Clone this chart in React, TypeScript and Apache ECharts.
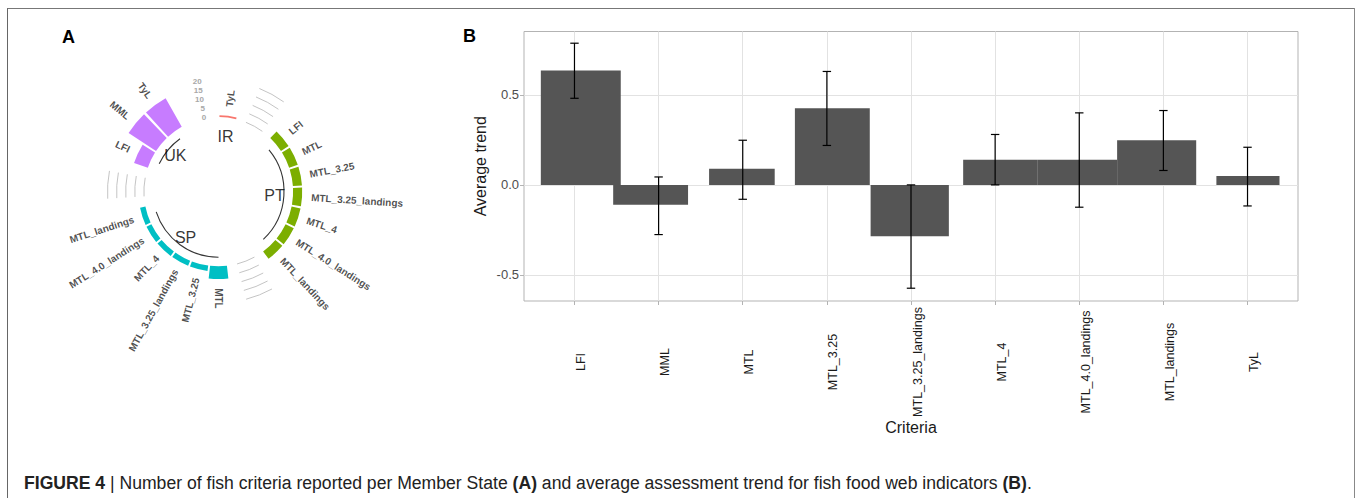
import React, { useEffect, useRef } from "react";
import * as echarts from "echarts";

// ---------- Panel B data ----------
const criteria = ["LFI", "MML", "MTL", "MTL_3.25", "MTL_3.25_landings", "MTL_4", "MTL_4.0_landings", "MTL_landings", "TyL"];
const averageTrend = [0.635, -0.111, 0.089, 0.426, -0.285, 0.139, 0.139, 0.248, 0.05];
const trendLower = [0.481, -0.276, -0.08, 0.219, -0.574, 0.0, -0.124, 0.08, -0.117];
const trendUpper = [0.787, 0.044, 0.248, 0.63, 0.0, 0.28, 0.4, 0.413, 0.209];
const barLeftEdge = [-0.4, 0.46, 1.6, 2.62, 3.52, 4.62, 5.5, 6.45, 7.63];
const barRightEdge = [0.55, 1.35, 2.38, 3.51, 4.45, 5.5, 6.45, 7.39, 8.38];
const trendTicks = [-0.5, 0, 0.5];
const trendGridMin = -0.5;
const trendGridMax = 0.75;
const trendGridStep = 0.25;

// ---------- Panel A data ----------
const memberStates = ["IR", "PT", "SP", "UK"];
const irCriteria = ["TyL"];
const irCounts = [1];
const ptCriteria = ["LFI", "MTL", "MTL_3.25", "MTL_3.25_landings", "MTL_4", "MTL_4.0_landings", "MTL_landings"];
const ptCounts = [5, 5, 5, 5, 5, 5, 5];
const spCriteria = ["MTL", "MTL_3.25", "MTL_3.25_landings", "MTL_4", "MTL_4.0_landings", "MTL_landings"];
const spCounts = [7, 3, 3, 3, 3, 3];
const ukCriteria = ["LFI", "MML", "TyL"];
const ukCounts = [8, 18, 18];
const countScale = [0, 5, 10, 15, 20];
const emptyBars = 2;

const stateColors = ["#F8766D", "#7CAE00", "#00BFC4", "#C77CFF"];
const F = '"Liberation Sans", Arial, Helvetica, sans-serif';

type Bar = { id: number; name: string; value: number; group: number };

function buildPolarData() {
  const groups = [
    { c: irCriteria, v: irCounts },
    { c: ptCriteria, v: ptCounts },
    { c: spCriteria, v: spCounts },
    { c: ukCriteria, v: ukCounts },
  ];
  const bars: Bar[] = [];
  const spans: { start: number; end: number; name: string }[] = [];
  let id = 0;
  groups.forEach((g, gi) => {
    const start = id + 1;
    g.c.forEach((name, k) => {
      id += 1;
      bars.push({ id, name, value: g.v[k], group: gi });
    });
    spans.push({ start, end: id, name: memberStates[gi] });
    id += emptyBars;
  });
  const nSlots = id;
  const gaps: number[][] = [];
  for (let gi = 1; gi < spans.length; gi++) {
    countScale.forEach((v) => gaps.push([v, spans[gi - 1].end + 1, spans[gi].start - 1]));
  }
  return { bars, spans, nSlots, gaps };
}

function buildOption() {
  const { bars, spans, nSlots, gaps } = buildPolarData();

  // panel B geometry
  const frameLeft = 524, frameRight = 1298, frameTop = 31.5, frameBottom = 301;
  const yMin = -0.645, yMax = 0.852;
  const xMin = -0.6, xMax = criteria.length - 1 + 0.6;
  const pxPerY = (frameBottom - frameTop) / (yMax - yMin);
  const pxPerX = (frameRight - frameLeft) / (xMax - xMin);
  const yPx = (v: number) => frameTop + (yMax - v) * pxPerY;
  const xPx = (v: number) => frameLeft + (v - xMin) * pxPerX;

  const helpers = (params: any, api: any) => {
    const cx = params.coordSys.cx, cy = params.coordSys.cy;
    const at = (r: number, a: number) => {
      const c = api.coord([r, a]);
      return { x: c[0], y: c[1], r: Math.hypot(c[0] - cx, c[1] - cy), ang: Math.atan2(c[1] - cy, c[0] - cx) };
    };
    return { cx, cy, at };
  };
  const fixEnd = (a0: number, a1: number) => (a1 < a0 ? a1 + Math.PI * 2 : a1);

  const polarCommon = { type: "custom", coordinateSystem: "polar", polarIndex: 0, silent: true };

  return {
    animation: false,
    backgroundColor: "#ffffff",
    polar: { center: [218.5, 191.7], radius: [0, 147.4] },
    angleAxis: { type: "value", min: 0.5, max: nSlots + 0.5, startAngle: 90, clockwise: true, show: false },
    radiusAxis: { type: "value", min: -41, max: 40, show: false },
    grid: [
      {
        left: frameLeft, top: frameTop, width: frameRight - frameLeft, height: frameBottom - frameTop,
        show: true, borderColor: "#b3b3b3", borderWidth: 1, backgroundColor: "transparent",
      },
      {
        left: frameLeft, width: frameRight - frameLeft,
        top: yPx(trendGridMax), height: yPx(trendGridMin) - yPx(trendGridMax),
      },
      {
        left: xPx(0), width: xPx(criteria.length - 1) - xPx(0),
        top: frameTop, height: frameBottom - frameTop,
      },
    ],
    xAxis: [
      { gridIndex: 0, type: "value", min: xMin, max: xMax, show: false },
      { gridIndex: 1, type: "value", min: 0, max: 1, show: false },
      {
        gridIndex: 2, type: "category", data: criteria, boundaryGap: false,
        axisLine: { show: false },
        axisTick: { show: true, length: 4, lineStyle: { color: "#b3b3b3" } },
        splitLine: { show: true, lineStyle: { color: "#e2e2e2", width: 1 } },
        axisLabel: {
          interval: 0, rotate: 90, margin: 61, align: "center", verticalAlign: "top",
          fontSize: 12.5, color: "#1a1a1a", fontFamily: F,
        },
      },
    ],
    yAxis: [
      { gridIndex: 0, type: "value", min: yMin, max: yMax, show: false },
      {
        gridIndex: 1, type: "value", min: trendGridMin, max: trendGridMax, interval: trendGridStep,
        axisLine: { show: false },
        axisTick: { show: true, length: 4, customValues: trendTicks, lineStyle: { color: "#b3b3b3" } },
        axisLabel: {
          customValues: trendTicks, formatter: (v: number) => v.toFixed(1),
          margin: 5, fontSize: 13, color: "#4d4d4d", fontFamily: F,
        },
        splitLine: { show: true, lineStyle: { color: "#e2e2e2", width: 1 } },
      },
      { gridIndex: 2, type: "value", show: false },
    ],
    series: [
      {
        type: "custom", xAxisIndex: 0, yAxisIndex: 0, silent: true, z: 3,
        data: criteria.map((_, i) => [i, averageTrend[i], barLeftEdge[i], barRightEdge[i]]),
        encode: { x: 0, y: 1 },
        renderItem: (params: any, api: any) => {
          const s = api.coord([api.value(2), 0]);
          const e = api.coord([api.value(3), api.value(1)]);
          return {
            type: "rect",
            shape: { x: s[0], y: Math.min(s[1], e[1]), width: e[0] - s[0], height: Math.abs(e[1] - s[1]) },
            style: { fill: "#555555" },
          };
        },
      },
      {
        type: "custom", xAxisIndex: 0, yAxisIndex: 0, silent: true, z: 4,
        data: criteria.map((_, i) => [i, trendLower[i], trendUpper[i]]),
        encode: { x: 0, y: 1 },
        renderItem: (params: any, api: any) => {
          const i = api.value(0);
          const lo = api.coord([i, api.value(1)]);
          const hi = api.coord([i, api.value(2)]);
          const capL = api.coord([i - 0.05, 0])[0];
          const capR = api.coord([i + 0.05, 0])[0];
          const st = { stroke: "#000", lineWidth: 1.2 };
          return {
            type: "group",
            children: [
              { type: "line", shape: { x1: lo[0], y1: lo[1], x2: hi[0], y2: hi[1] }, style: st },
              { type: "line", shape: { x1: capL, y1: lo[1], x2: capR, y2: lo[1] }, style: st },
              { type: "line", shape: { x1: capL, y1: hi[1], x2: capR, y2: hi[1] }, style: st },
            ],
          };
        },
      },
      // Panel A: grey scale arcs in gaps
      {
        ...polarCommon,
        data: gaps,
        renderItem: (params: any, api: any) => {
          const g = gaps[params.dataIndex];
          const { cx, cy, at } = helpers(params, api);
          const a = at(g[0], g[1]);
          const b = at(g[0], g[2]);
          return {
            type: "arc",
            shape: { cx, cy, r: a.r, startAngle: a.ang, endAngle: fixEnd(a.ang, b.ang), clockwise: true },
            style: { stroke: "#bdbdbd", lineWidth: 0.9, fill: null },
          };
        },
      },
      // Panel A: bars
      {
        ...polarCommon,
        data: bars.map((b) => [b.value, b.id]),
        renderItem: (params: any, api: any) => {
          const b = bars[params.dataIndex];
          const { cx, cy, at } = helpers(params, api);
          const s = at(0, b.id - 0.45);
          const e = at(b.value, b.id + 0.45);
          return {
            type: "sector",
            shape: { cx, cy, r0: s.r, r: e.r, startAngle: s.ang, endAngle: fixEnd(s.ang, e.ang), clockwise: true },
            style: { fill: stateColors[b.group] },
          };
        },
      },
      // Panel A: bar labels
      {
        ...polarCommon,
        data: bars.map((b) => [b.value + 5, b.id]),
        renderItem: (params: any, api: any) => {
          const b = bars[params.dataIndex];
          const { at } = helpers(params, api);
          const p = at(b.value + 5, b.id);
          let theta = (p.ang * 180) / Math.PI + 90;
          if (theta < 0) theta += 360;
          let deg = 90 - theta;
          let align = "left";
          if (deg < -90) { deg += 180; align = "right"; }
          return {
            type: "text", x: p.x, y: p.y, rotation: (deg * Math.PI) / 180,
            style: {
              text: b.name, fill: "rgba(0,0,0,0.7)", font: `bold 10px ${F}`,
              align, verticalAlign: "middle", textAlign: align, textVerticalAlign: "middle",
            },
          };
        },
      },
      // Panel A: scale numbers
      {
        ...polarCommon,
        data: countScale.map((v) => [v, nSlots]),
        renderItem: (params: any, api: any) => {
          const { at } = helpers(params, api);
          const v = countScale[params.dataIndex];
          const p = at(v, nSlots);
          return {
            type: "text", x: p.x - 3, y: p.y,
            style: {
              text: String(v), fill: "#a8a8a8", font: `bold 8px ${F}`,
              align: "right", verticalAlign: "middle", textAlign: "right", textVerticalAlign: "middle",
            },
          };
        },
      },
      // Panel A: group base arcs and labels
      {
        ...polarCommon,
        data: spans.map((s) => [-5, (s.start + s.end) / 2]),
        renderItem: (params: any, api: any) => {
          const s = spans[params.dataIndex];
          const { cx, cy, at } = helpers(params, api);
          const children: any[] = [];
          if (s.end > s.start) {
            const a = at(-5, s.start);
            const b = at(-5, s.end);
            children.push({
              type: "arc",
              shape: { cx, cy, r: a.r, startAngle: a.ang, endAngle: fixEnd(a.ang, b.ang), clockwise: true },
              style: { stroke: "rgba(0,0,0,0.8)", lineWidth: 1.1, fill: null },
            });
          }
          const t = at(-10.2, (s.start + s.end) / 2);
          children.push({
            type: "text", x: t.x, y: t.y,
            style: {
              text: s.name, fill: "rgba(0,0,0,0.8)", font: `16px ${F}`,
              align: "center", verticalAlign: "middle", textAlign: "center", textVerticalAlign: "middle",
            },
          });
          return { type: "group", children };
        },
      },
    ],
    graphic: [
      { type: "line", shape: { x1: 7.5, y1: 8, x2: 7.5, y2: 498 }, style: { stroke: "#666", lineWidth: 1 } },
      { type: "line", shape: { x1: 7.5, y1: 8.5, x2: 1355, y2: 8.5 }, style: { stroke: "#777", lineWidth: 1 } },
      { type: "line", shape: { x1: 1354.5, y1: 8, x2: 1354.5, y2: 498 }, style: { stroke: "#888", lineWidth: 1 } },
      {
        type: "text", x: 62, y: 37,
        style: { text: "A", font: `bold 18px ${F}`, fill: "#000", verticalAlign: "middle", textVerticalAlign: "middle" },
      },
      {
        type: "text", x: 463, y: 36,
        style: { text: "B", font: `bold 18px ${F}`, fill: "#000", verticalAlign: "middle", textVerticalAlign: "middle" },
      },
      {
        type: "text", x: 480, y: (frameTop + frameBottom) / 2, rotation: Math.PI / 2,
        style: {
          text: "Average trend", font: `16px ${F}`, fill: "#1a1a1a",
          align: "center", verticalAlign: "middle", textAlign: "center", textVerticalAlign: "middle",
        },
      },
      {
        type: "text", x: (frameLeft + frameRight) / 2, y: 427,
        style: {
          text: "Criteria", font: `16px ${F}`, fill: "#1a1a1a",
          align: "center", verticalAlign: "middle", textAlign: "center", textVerticalAlign: "middle",
        },
      },
      {
        type: "text", x: 24, y: 483,
        style: {
          text: "{b|FIGURE 4} | Number of fish criteria reported per Member State {b|(A)} and average assessment trend for fish food web indicators {b|(B)}.",
          font: `17.6px ${F}`, fill: "#222",
          verticalAlign: "middle", textVerticalAlign: "middle",
          rich: { b: { fontWeight: "bold", fontSize: 17.6, fontFamily: F, fill: "#222" } },
        },
      },
    ],
  };
}

export default function App() {
  const ref = useRef<HTMLDivElement>(null);
  useEffect(() => {
    const chart = echarts.init(ref.current as HTMLDivElement, null, { renderer: "svg" });
    chart.setOption(buildOption() as any);
    return () => chart.dispose();
  }, []);
  return (
    <div
      ref={ref}
      style={{ position: "fixed", left: 0, top: 0, width: 1357, height: 498, background: "#fff" }}
    />
  );
}
